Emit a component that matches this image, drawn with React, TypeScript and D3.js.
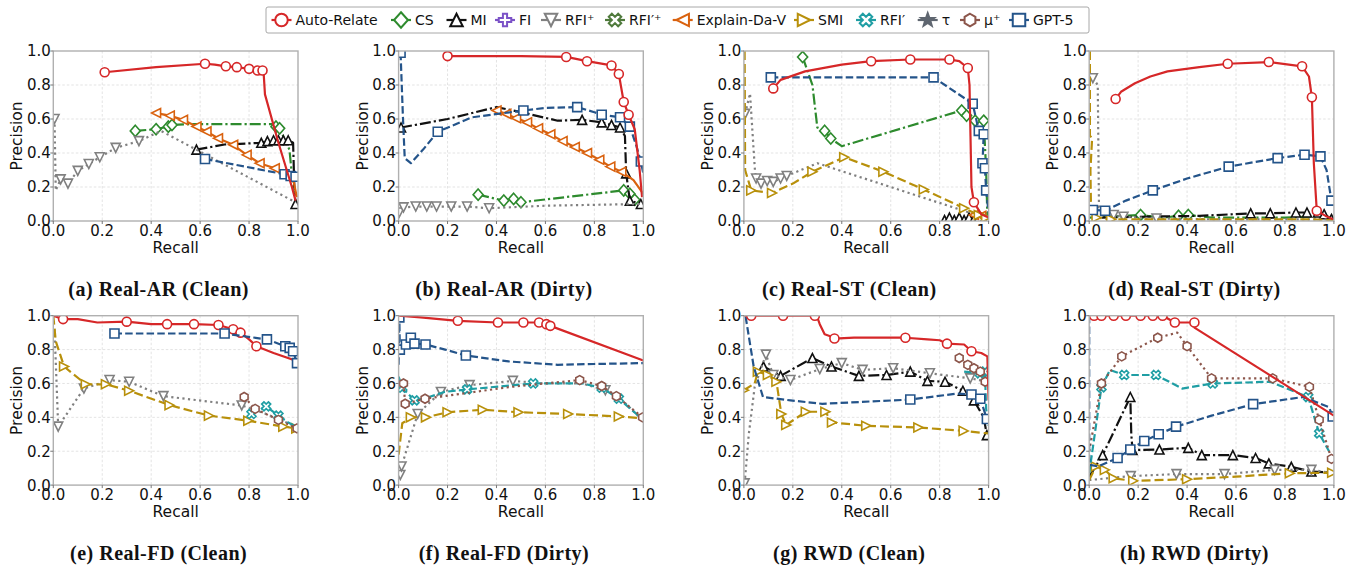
import React from 'react';
import * as d3 from 'd3';

type P = [number, number, number]; // recall, precision, marker flag

const methods = ['Auto-Relate', 'CS', 'MI', 'FI', 'RFI⁺', 'RFI′⁺', 'Explain-Da-V', 'SMI', 'RFI′', 'τ', 'μ⁺', 'GPT-5'];
const panelTitles = ['(a) Real-AR (Clean)', '(b) Real-AR (Dirty)', '(c) Real-ST (Clean)', '(d) Real-ST (Dirty)',
  '(e) Real-FD (Clean)', '(f) Real-FD (Dirty)', '(g) RWD (Clean)', '(h) RWD (Dirty)'];
const xTicks = [0, 0.2, 0.4, 0.6, 0.8, 1.0];
const yTicks = [0, 0.2, 0.4, 0.6, 0.8, 1.0];
const xLabel = 'Recall';
const yLabel = 'Precision';

// ---- (a) Real-AR (Clean)
const aAR: P[] = [[0.21,0.875,1],[0.42,0.905,0],[0.62,0.925,1],[0.66,0.92,0],[0.705,0.91,1],[0.75,0.905,1],[0.80,0.895,1],[0.835,0.885,1],[0.855,0.885,1],[0.86,0.86,0],[0.865,0.745,0],[0.92,0.46,0],[0.975,0.2,0],[0.99,0.12,0]];
const aCS: P[] = [[0.335,0.53,1],[0.42,0.54,1],[0.47,0.555,1],[0.485,0.565,1],[0.55,0.57,0],[0.9,0.57,0],[0.91,0.555,1],[0.925,0.545,1],[0.965,0.42,0],[0.98,0.2,0],[0.99,0.15,0]];
const aMI: P[] = [[0.585,0.42,1],[0.7,0.45,0],[0.85,0.46,1],[0.875,0.47,1],[0.9,0.475,1],[0.92,0.475,1],[0.94,0.475,1],[0.96,0.475,1],[0.98,0.46,0],[0.985,0.2,0],[0.99,0.1,1]];
const aEXP: P[] = [[0.42,0.635,1],[0.476,0.62,1],[0.53,0.595,1],[0.585,0.556,1],[0.626,0.527,1],[0.673,0.487,1],[0.735,0.448,1],[0.79,0.389,1],[0.843,0.34,1],[0.905,0.31,1],[0.95,0.28,0],[0.98,0.25,0],[0.995,0.14,0]];
const aRFIp: P[] = [[0.005,0.6,1],[0.01,0.18,0],[0.03,0.245,1],[0.06,0.22,1],[0.1,0.295,1],[0.145,0.335,1],[0.19,0.375,1],[0.255,0.43,1],[0.35,0.47,1],[0.44,0.53,0],[0.99,0.11,0]];
const aGPT: P[] = [[0.62,0.365,1],[0.945,0.275,1],[0.97,0.265,1],[0.99,0.26,1]];

// ---- (b) Real-AR (Dirty)
const bAR: P[] = [[0.2,0.97,1],[0.5,0.97,0],[0.685,0.965,1],[0.77,0.94,1],[0.87,0.915,1],[0.9,0.865,1],[0.92,0.7,1],[0.94,0.625,1],[0.965,0.54,0],[0.985,0.3,0],[0.995,0.14,0]];
const bGPT: P[] = [[0.008,0.99,1],[0.018,0.6,0],[0.025,0.37,0],[0.05,0.34,0],[0.1,0.42,0],[0.16,0.525,1],[0.3,0.61,0],[0.51,0.65,1],[0.6,0.665,0],[0.73,0.67,1],[0.8,0.64,0],[0.83,0.625,1],[0.905,0.61,1],[0.945,0.555,1],[0.97,0.45,0],[0.99,0.35,1],[1.0,0.28,0]];
const bMI: P[] = [[0.01,0.55,1],[0.2,0.6,0],[0.4,0.67,0],[0.5,0.64,0],[0.65,0.59,0],[0.75,0.595,1],[0.83,0.58,1],[0.87,0.565,1],[0.905,0.55,1],[0.925,0.5,0],[0.93,0.28,1],[0.945,0.12,1],[0.99,0.1,1]];
const bEXP: P[] = [[0.4,0.65,1],[0.44,0.63,1],[0.48,0.605,1],[0.525,0.58,1],[0.57,0.545,1],[0.62,0.51,1],[0.67,0.47,1],[0.72,0.435,1],[0.77,0.4,1],[0.82,0.36,1],[0.865,0.32,1],[0.91,0.29,1],[0.96,0.24,0],[1.0,0.16,0]];
const bCS: P[] = [[0.325,0.155,1],[0.43,0.12,1],[0.47,0.13,1],[0.5,0.11,1],[0.92,0.18,1],[0.945,0.16,1],[0.965,0.125,1],[0.99,0.1,0]];
const bRFIp: P[] = [[0.003,0.05,1],[0.02,0.08,1],[0.07,0.085,1],[0.115,0.085,1],[0.155,0.085,1],[0.215,0.085,1],[0.28,0.085,1],[0.37,0.075,1],[0.6,0.09,0],[0.99,0.1,0]];

// ---- (c) Real-ST (Clean)
const cAR: P[] = [[0.12,0.78,1],[0.15,0.83,0],[0.25,0.88,0],[0.4,0.92,0],[0.52,0.94,1],[0.68,0.95,1],[0.84,0.95,1],[0.88,0.94,0],[0.915,0.9,1],[0.922,0.8,0],[0.926,0.5,0],[0.93,0.2,0],[0.94,0.11,1],[0.97,0.04,0],[1.0,0.02,0]];
const cGPT: P[] = [[0.11,0.845,1],[0.775,0.845,1],[0.935,0.69,1],[0.96,0.53,1],[0.98,0.51,1],[0.975,0.34,1],[0.985,0.31,1],[0.99,0.18,1],[1.0,0.05,0]];
const cCS: P[] = [[0.24,0.965,1],[0.28,0.8,0],[0.3,0.55,0],[0.33,0.53,1],[0.355,0.485,1],[0.4,0.44,0],[0.89,0.65,1],[0.91,0.62,1],[0.945,0.59,1],[0.98,0.59,1],[0.99,0.3,0],[0.995,0.02,0]];
const cSMI: P[] = [[0.003,1.0,0],[0.005,0.3,0],[0.03,0.18,1],[0.115,0.165,1],[0.2,0.22,0],[0.28,0.29,1],[0.41,0.375,1],[0.57,0.29,1],[0.735,0.185,1],[0.9,0.075,1],[0.96,0.035,1],[0.99,0.02,1]];
const cRFIp: P[] = [[0.005,0.63,1],[0.025,0.75,0],[0.045,0.3,0],[0.05,0.25,1],[0.07,0.22,1],[0.095,0.235,1],[0.12,0.23,1],[0.15,0.25,1],[0.175,0.265,1],[0.3,0.34,0],[0.92,0.05,0],[0.99,0.02,0]];
const cMI: P[] = [[0.82,0.005,1],[0.84,0.02,1],[0.86,0.005,1],[0.88,0.02,1],[0.9,0.005,1],[0.92,0.02,1],[0.94,0.01,1],[0.96,0.02,1],[0.98,0.005,1]];
const cEXP: P[] = [[0.94,0.035,1],[0.97,0.03,1],[1.0,0.02,0]];

// ---- (d) Real-ST (Dirty)
const dAR: P[] = [[0.108,0.718,1],[0.13,0.76,0],[0.187,0.81,0],[0.25,0.85,0],[0.32,0.88,0],[0.45,0.905,0],[0.566,0.925,1],[0.734,0.935,1],[0.87,0.91,1],[0.898,0.85,0],[0.91,0.728,1],[0.918,0.34,0],[0.93,0.06,1],[0.966,0.03,0],[0.997,0.01,0]];
const dGPT: P[] = [[0.015,0.065,1],[0.065,0.06,1],[0.15,0.12,0],[0.26,0.18,1],[0.4,0.25,0],[0.57,0.32,1],[0.77,0.37,1],[0.88,0.39,1],[0.945,0.38,1],[0.97,0.3,0],[0.99,0.12,1]];
const dMI: P[] = [[0.05,0.02,0],[0.2,0.025,0],[0.45,0.03,0],[0.66,0.045,1],[0.74,0.045,1],[0.845,0.05,1],[0.89,0.05,1],[0.935,0.05,1],[0.96,0.04,1],[0.99,0.012,1]];
const dCS: P[] = [[0.0,0.02,0],[0.21,0.035,1],[0.3,0.02,0],[0.365,0.03,1],[0.405,0.035,1],[0.5,0.02,0],[0.8,0.02,0],[0.97,0.03,0],[1.0,0.01,0]];
const dRFIp: P[] = [[0.015,0.84,1],[0.035,0.8,0],[0.04,0.08,0],[0.1,0.035,1],[0.14,0.025,1],[0.275,0.015,1],[0.5,0.01,0],[1.0,0.01,0]];
const dSMI: P[] = [[0.003,1.0,0],[0.003,0.5,0],[0.012,0.49,0],[0.005,0.3,0],[0.008,0.02,0],[0.03,0.02,1],[0.09,0.01,1],[0.5,0.01,0],[0.9,0.01,0],[1.0,0.005,0]];

// ---- (e) Real-FD (Clean)
const eAR: P[] = [[0.0,1.0,0],[0.04,0.98,1],[0.1,0.98,0],[0.18,0.96,0],[0.3,0.965,1],[0.4,0.95,0],[0.465,0.95,1],[0.575,0.95,1],[0.675,0.945,1],[0.735,0.92,1],[0.765,0.9,1],[0.8,0.86,0],[0.83,0.82,1],[0.9,0.78,0],[1.0,0.73,0]];
const eGPT: P[] = [[0.25,0.895,1],[0.7,0.895,1],[0.873,0.86,1],[0.948,0.82,1],[0.966,0.81,1],[0.98,0.79,1],[0.996,0.72,1]];
const eSMI: P[] = [[0.0,1.0,0],[0.01,0.85,0],[0.044,0.70,1],[0.133,0.595,1],[0.215,0.595,1],[0.31,0.557,1],[0.475,0.472,1],[0.636,0.41,1],[0.797,0.38,1],[0.94,0.345,1],[0.993,0.335,1]];
const eRFIp: P[] = [[0.005,0.92,0],[0.02,0.345,1],[0.125,0.57,1],[0.23,0.62,1],[0.31,0.61,1],[0.45,0.525,1],[0.77,0.47,1],[0.87,0.42,0],[1.0,0.34,0]];
const eMU: P[] = [[0.78,0.52,1],[0.825,0.45,1],[0.92,0.385,1],[0.996,0.335,1]];
const eRFIpr: P[] = [[0.81,0.42,1],[0.87,0.465,1],[0.92,0.41,1],[0.96,0.37,0],[1.0,0.34,0]];

// ---- (f) Real-FD (Dirty)
const fAR: P[] = [[0.0,1.0,0],[0.09,0.99,0],[0.242,0.97,1],[0.406,0.96,1],[0.51,0.96,1],[0.574,0.96,1],[0.604,0.95,1],[0.62,0.94,1],[1.0,0.735,0]];
const fGPT: P[] = [[0.0,0.71,0],[0.003,0.99,1],[0.005,0.8,1],[0.03,0.83,1],[0.05,0.87,1],[0.065,0.835,1],[0.11,0.83,1],[0.19,0.8,0],[0.275,0.765,1],[0.45,0.73,0],[0.65,0.71,0],[0.8,0.715,0],[1.0,0.72,0]];
const fRFIpr: P[] = [[0.0,0.64,0],[0.015,0.575,1],[0.065,0.5,1],[0.105,0.51,0],[0.187,0.55,0],[0.28,0.565,1],[0.55,0.6,1],[0.75,0.6,0],[0.83,0.575,1],[0.9,0.51,1],[1.0,0.385,0]];
const fMU: P[] = [[0.02,0.6,1],[0.027,0.48,1],[0.108,0.51,1],[0.46,0.58,0],[0.74,0.62,1],[0.83,0.585,1],[0.89,0.525,1],[0.997,0.4,1]];
const fRFIp: P[] = [[0.007,0.06,1],[0.012,0.11,1],[0.078,0.42,1],[0.173,0.55,1],[0.29,0.59,1],[0.467,0.615,1],[0.6,0.6,0],[0.75,0.6,0],[0.845,0.56,1],[0.9,0.52,0],[0.997,0.385,0]];
const fSMI: P[] = [[0.0,0.18,0],[0.015,0.365,0],[0.05,0.4,1],[0.112,0.4,1],[0.2,0.43,1],[0.344,0.445,1],[0.49,0.43,1],[0.693,0.42,1],[0.9,0.405,1],[0.997,0.395,0]];

// ---- (g) RWD (Clean)
const gAR: P[] = [[0.0,1.0,0],[0.03,1.0,1],[0.16,1.0,1],[0.29,1.0,1],[0.3,0.99,0],[0.31,0.95,0],[0.32,0.92,0],[0.33,0.89,0],[0.35,0.88,0],[0.37,0.865,1],[0.45,0.87,0],[0.55,0.87,0],[0.66,0.87,1],[0.75,0.86,0],[0.8,0.855,0],[0.83,0.835,1],[0.9,0.83,0],[0.93,0.79,1],[0.97,0.78,0],[0.995,0.76,0],[1.0,0.5,0]];
const gMI: P[] = [[0.08,0.7,1],[0.15,0.645,1],[0.28,0.75,1],[0.358,0.7,1],[0.47,0.645,1],[0.583,0.65,1],[0.68,0.67,1],[0.75,0.615,1],[0.822,0.61,1],[0.895,0.557,1],[0.94,0.5,1],[0.98,0.4,0],[0.993,0.295,1]];
const gRFIp: P[] = [[0.003,0.01,1],[0.02,0.3,0],[0.044,0.58,0],[0.09,0.77,1],[0.12,0.65,1],[0.19,0.62,1],[0.31,0.685,1],[0.4,0.72,1],[0.485,0.68,1],[0.61,0.69,1],[0.76,0.66,1],[0.925,0.63,1],[0.997,0.61,0]];
const gSMI: P[] = [[0.0,0.56,1],[0.044,0.6,0],[0.057,0.67,1],[0.098,0.65,1],[0.133,0.61,1],[0.153,0.42,1],[0.173,0.355,1],[0.253,0.433,1],[0.333,0.433,1],[0.36,0.37,1],[0.5,0.35,1],[0.713,0.34,1],[0.898,0.32,1],[0.997,0.305,0]];
const gGPT: P[] = [[0.007,0.995,0],[0.04,0.7,0],[0.078,0.52,0],[0.19,0.5,0],[0.32,0.48,0],[0.68,0.505,1],[0.87,0.54,0],[0.93,0.535,1],[0.966,0.51,1],[0.993,0.39,1]];
const gMU: P[] = [[0.88,0.75,1],[0.915,0.71,1],[0.94,0.69,1],[0.966,0.67,1],[0.986,0.61,1]];
const gRFIpr: P[] = [[0.9,0.67,0],[0.965,0.66,1],[0.985,0.67,1],[0.99,0.45,0],[1.0,0.35,0]];

// ---- (h) RWD (Dirty)
const hAR: P[] = [[0.0,1.0,0],[0.02,1.0,1],[0.05,1.0,1],[0.1,1.0,1],[0.15,1.0,1],[0.21,1.0,1],[0.26,1.0,1],[0.3,1.0,1],[0.35,0.96,1],[0.39,0.96,0],[0.43,0.96,1],[0.43,0.93,0],[1.0,0.41,0]];
const hMU: P[] = [[0.0,0.2,0],[0.05,0.6,1],[0.133,0.76,1],[0.28,0.87,1],[0.36,0.9,0],[0.4,0.82,1],[0.5,0.63,1],[0.75,0.63,1],[0.9,0.58,1],[0.94,0.385,1],[0.99,0.155,1]];
const hRFIpr: P[] = [[0.0,0.07,0],[0.05,0.577,1],[0.085,0.68,0],[0.143,0.65,1],[0.273,0.65,1],[0.38,0.57,0],[0.505,0.6,1],[0.74,0.61,0],[0.895,0.52,1],[0.94,0.305,1],[0.98,0.2,0]];
const hGPT: P[] = [[0.0,1.0,0],[0.0,0.12,0],[0.037,0.11,0],[0.116,0.16,1],[0.168,0.21,1],[0.225,0.26,1],[0.284,0.30,1],[0.355,0.345,1],[0.5,0.41,0],[0.67,0.478,1],[0.874,0.52,0],[0.98,0.46,0],[0.995,0.405,1]];
const hMI: P[] = [[0.0,0.05,0],[0.055,0.177,1],[0.168,0.52,1],[0.172,0.3,0],[0.177,0.207,1],[0.287,0.21,1],[0.405,0.22,1],[0.46,0.177,1],[0.587,0.177,1],[0.68,0.16,1],[0.734,0.128,1],[0.826,0.108,1],[0.908,0.08,1],[0.997,0.073,0]];
const hRFIp: P[] = [[0.0,0.03,0],[0.17,0.053,1],[0.357,0.065,1],[0.553,0.065,1],[0.758,0.09,1],[0.908,0.09,1],[1.0,0.07,0]];
const hSMI: P[] = [[0.0,0.03,0],[0.027,0.11,1],[0.064,0.09,1],[0.1,0.04,1],[0.18,0.025,1],[0.4,0.035,1],[0.6,0.05,0],[0.82,0.07,1],[0.993,0.073,1]];

type Series = { m: string; d: P[] };
const panelSeries: Series[][] = [
  [{ m: 'CS', d: aCS }, { m: 'MI', d: aMI }, { m: 'RFI⁺', d: aRFIp }, { m: 'Explain-Da-V', d: aEXP }, { m: 'GPT-5', d: aGPT }, { m: 'Auto-Relate', d: aAR }],
  [{ m: 'CS', d: bCS }, { m: 'MI', d: bMI }, { m: 'RFI⁺', d: bRFIp }, { m: 'Explain-Da-V', d: bEXP }, { m: 'GPT-5', d: bGPT }, { m: 'Auto-Relate', d: bAR }],
  [{ m: 'CS', d: cCS }, { m: 'MI', d: cMI }, { m: 'RFI⁺', d: cRFIp }, { m: 'Explain-Da-V', d: cEXP }, { m: 'SMI', d: cSMI }, { m: 'GPT-5', d: cGPT }, { m: 'Auto-Relate', d: cAR }],
  [{ m: 'CS', d: dCS }, { m: 'MI', d: dMI }, { m: 'RFI⁺', d: dRFIp }, { m: 'SMI', d: dSMI }, { m: 'GPT-5', d: dGPT }, { m: 'Auto-Relate', d: dAR }],
  [{ m: 'RFI⁺', d: eRFIp }, { m: 'SMI', d: eSMI }, { m: 'RFI′', d: eRFIpr }, { m: 'μ⁺', d: eMU }, { m: 'Auto-Relate', d: eAR }, { m: 'GPT-5', d: eGPT }],
  [{ m: 'RFI⁺', d: fRFIp }, { m: 'SMI', d: fSMI }, { m: 'RFI′', d: fRFIpr }, { m: 'μ⁺', d: fMU }, { m: 'GPT-5', d: fGPT }, { m: 'Auto-Relate', d: fAR }],
  [{ m: 'MI', d: gMI }, { m: 'RFI⁺', d: gRFIp }, { m: 'SMI', d: gSMI }, { m: 'RFI′', d: gRFIpr }, { m: 'μ⁺', d: gMU }, { m: 'GPT-5', d: gGPT }, { m: 'Auto-Relate', d: gAR }],
  [{ m: 'MI', d: hMI }, { m: 'RFI⁺', d: hRFIp }, { m: 'SMI', d: hSMI }, { m: 'RFI′', d: hRFIpr }, { m: 'μ⁺', d: hMU }, { m: 'GPT-5', d: hGPT }, { m: 'Auto-Relate', d: hAR }],
];

// ---- styles / layout
const STYLE: Record<string, { color: string; dash: string; marker: string; fill?: boolean }> = {
  'Auto-Relate': { color: '#d62728', dash: '', marker: 'o' },
  'CS': { color: '#2e8b2e', dash: '11,3,2.2,3', marker: 'D' },
  'MI': { color: '#111111', dash: '11,3,2.2,3', marker: '^' },
  'FI': { color: '#7b52c7', dash: '', marker: 'P' },
  'RFI⁺': { color: '#808080', dash: '2.2,3.4', marker: 'v' },
  'RFI′⁺': { color: '#4f7a3c', dash: '2.2,3.4', marker: 'X' },
  'Explain-Da-V': { color: '#d9620f', dash: '', marker: '<' },
  'SMI': { color: '#b8900b', dash: '9,4', marker: '>' },
  'RFI′': { color: '#1f9ea4', dash: '7.5,3.2', marker: 'X' },
  'τ': { color: '#5f6670', dash: '', marker: '*', fill: true },
  'μ⁺': { color: '#8c564b', dash: '2.2,3.4', marker: 'h' },
  'GPT-5': { color: '#24548a', dash: '7.5,3.2', marker: 's' },
};

const COL_X = [53.3, 398.6, 743.9, 1089.2];
const PW = 244.7;
const ROW_Y = [51, 315.7];
const PH = [170, 169.4];
const TITLE_BASE = [296, 560];
const LEGEND_X = [281.5, 401, 456.5, 505, 551, 615, 682.7, 804, 866, 927.7, 970, 1019];

function poly(pts: [number, number][]) {
  return 'M' + pts.map(p => `${p[0].toFixed(2)},${p[1].toFixed(2)}`).join('L') + 'Z';
}

function markerPath(m: string, S: number): string {
  const h = S / 2;
  switch (m) {
    case 'o': {
      const p = d3.path(); p.arc(0, 0, h, 0, Math.PI * 2); p.closePath(); return p.toString();
    }
    case 's': return poly([[-h, -h], [h, -h], [h, h], [-h, h]]);
    case 'D': { const d = S * 0.62; return poly([[0, -d], [d * 0.9, 0], [0, d], [-d * 0.9, 0]]); }
    case '^': return poly([[0, -h], [h, h], [-h, h]]);
    case 'v': return poly([[0, h], [h, -h], [-h, -h]]);
    case '<': return poly([[-h, 0], [h, -h], [h, h]]);
    case '>': return poly([[h, 0], [-h, -h], [-h, h]]);
    case 'P': {
      const u = S / 6;
      return poly([[-1, -3], [1, -3], [1, -1], [3, -1], [3, 1], [1, 1], [1, 3], [-1, 3], [-1, 1], [-3, 1], [-3, -1], [-1, -1]].map(([a, b]) => [a * u, b * u] as [number, number]));
    }
    case 'X': {
      const u = S / 4;
      return poly([[-1, -2], [0, -1], [1, -2], [2, -1], [1, 0], [2, 1], [1, 2], [0, 1], [-1, 2], [-2, 1], [-1, 0], [-2, -1]].map(([a, b]) => [a * u, b * u] as [number, number]));
    }
    case 'h': {
      const pts: [number, number][] = [];
      for (let k = 0; k < 6; k++) { const a = -Math.PI / 2 + k * Math.PI / 3; pts.push([h * Math.cos(a), h * Math.sin(a)]); }
      return poly(pts);
    }
    case '*': {
      const pts: [number, number][] = [];
      for (let k = 0; k < 10; k++) { const r = k % 2 === 0 ? h * 1.1 : h * 0.45; const a = -Math.PI / 2 + k * Math.PI / 5; pts.push([r * Math.cos(a), r * Math.sin(a)]); }
      return poly(pts);
    }
  }
  return '';
}

const FONT = 'DejaVu Sans';

function Panel({ idx }: { idx: number }) {
  const row = Math.floor(idx / 4), col = idx % 4;
  const x0 = COL_X[col], y0 = ROW_Y[row], ph = PH[row];
  const xs = d3.scaleLinear().domain([0, 1]).range([x0, x0 + PW]);
  const ys = d3.scaleLinear().domain([0, 1]).range([y0 + ph, y0]);
  const line = d3.line<P>().x(d => xs(d[0])).y(d => ys(d[1]));
  const bottom = y0 + ph;
  const clipId = `clip${idx}`;
  const MS = 9;
  return (
    <g>
      <defs>
        <clipPath id={clipId}><rect x={x0} y={y0} width={PW} height={ph} /></clipPath>
      </defs>
      {xTicks.slice(1, -1).map(t => (
        <line key={'gx' + t} x1={xs(t)} x2={xs(t)} y1={y0} y2={bottom} stroke="#dcdcdc" strokeWidth={0.8} strokeDasharray="2.5,2" />
      ))}
      {yTicks.slice(1, -1).map(t => (
        <line key={'gy' + t} x1={x0} x2={x0 + PW} y1={ys(t)} y2={ys(t)} stroke="#dcdcdc" strokeWidth={0.8} strokeDasharray="2.5,2" />
      ))}
      <g clipPath={`url(#${clipId})`}>
        {panelSeries[idx].map((s, si) => {
          const st = STYLE[s.m];
          return (
            <g key={si}>
              <path d={line(s.d) || ''} fill="none" stroke={st.color} strokeWidth={2.2}
                strokeDasharray={st.dash || undefined} strokeLinejoin="round" />
              {s.d.filter(p => p[2] === 1).map((p, pi) => (
                <path key={pi} d={markerPath(st.marker, MS)} transform={`translate(${xs(p[0])},${ys(p[1])})`}
                  fill={st.fill ? st.color : '#ffffff'} stroke={st.color} strokeWidth={1.6} />
              ))}
            </g>
          );
        })}
      </g>
      <rect x={x0} y={y0} width={PW} height={ph} fill="none" stroke="#b0b0b0" strokeWidth={1.4} />
      {xTicks.map(t => (
        <g key={'xt' + t}>
          <line x1={xs(t)} x2={xs(t)} y1={bottom} y2={bottom + 3} stroke="#777" strokeWidth={1} />
          <text x={xs(t)} y={bottom + 15} textAnchor="middle" fontSize={15} fontFamily={FONT} fill="#111">{t.toFixed(1)}</text>
        </g>
      ))}
      {yTicks.map(t => (
        <g key={'yt' + t}>
          <line x1={x0 - 3} x2={x0} y1={ys(t)} y2={ys(t)} stroke="#777" strokeWidth={1} />
          <text x={x0 - 2.5} y={ys(t) + 5.4} textAnchor="end" fontSize={15} fontFamily={FONT} fill="#111">{t.toFixed(1)}</text>
        </g>
      ))}
      <text x={x0 + PW / 2} y={bottom + 32} textAnchor="middle" fontSize={15.5} fontFamily={FONT} fill="#111">{xLabel}</text>
      <text transform={`translate(${x0 - 31},${y0 + ph / 2}) rotate(-90)`} textAnchor="middle" fontSize={15.5} fontFamily={FONT} fill="#111">{yLabel}</text>
      <text x={x0 + PW / 2 - 17} y={TITLE_BASE[row]} textAnchor="middle" fontSize={20} fontWeight="bold"
        fontFamily="Liberation Serif" letterSpacing={0.5} fill="#111">{panelTitles[idx]}</text>
    </g>
  );
}

function Legend() {
  const cy = 20;
  return (
    <g>
      <rect x={266} y={7} width={823} height={26} rx={2} fill="#fff" stroke="#a8a8a8" strokeWidth={1} />
      {methods.map((m, i) => {
        const st = STYLE[m];
        const cx = LEGEND_X[i];
        return (
          <g key={m}>
            <line x1={cx - 10} x2={cx + 10} y1={cy} y2={cy} stroke={st.color} strokeWidth={2.2} />
            <path d={markerPath(st.marker, 12.5)} transform={`translate(${cx},${cy})`}
              fill={st.fill ? st.color : '#ffffff'} stroke={st.color} strokeWidth={2} />
            <text x={cx + 14} y={cy + 5} fontSize={14} fontFamily={FONT} fill="#111">{m}</text>
          </g>
        );
      })}
    </g>
  );
}

export default function App() {
  return (
    <svg width={1356} height={565} style={{ position: 'absolute', left: 0, top: 0, background: '#fff' }}>
      <rect x={0} y={0} width={1356} height={565} fill="#fff" />
      <Legend />
      {panelTitles.map((_, i) => <Panel key={i} idx={i} />)}
    </svg>
  );
}
